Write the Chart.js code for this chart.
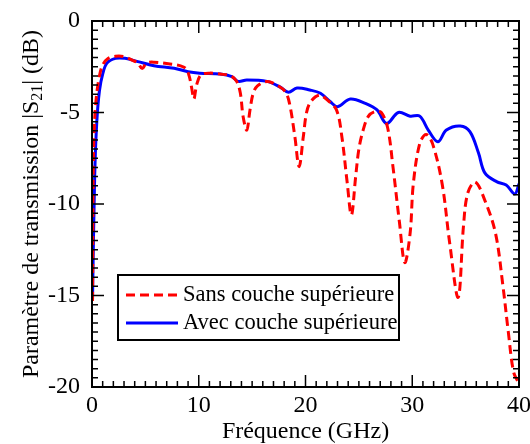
<!DOCTYPE html>
<html>
<head>
<meta charset="utf-8">
<script src="https://cdn.jsdelivr.net/npm/chart.js@4/dist/chart.umd.min.js"></script>
<style>
  html, body { margin: 0; padding: 0; background: #fff; }
  #wrap { width: 530px; height: 444px; }
</style>
</head>
<body>
<div id="wrap"><canvas id="s21-chart" width="530" height="444"></canvas></div>
<script>
// Sans couche supérieure (red dashed)
const freqSans = [0.05, 0.1, 0.2, 0.4, 0.7, 1.0, 1.5, 2.2, 3.0, 3.8, 4.3, 4.7, 5.1, 5.8, 7.3, 8.3, 8.8, 9.1, 9.35, 9.55, 9.8, 10.2,
  11, 12, 13.0, 13.55, 13.9, 14.15, 14.5, 14.8, 15.1, 15.5, 16.4, 17.3, 18.1, 18.5, 19.0, 19.4, 19.8, 20.1, 20.5, 21.3, 22.0,
  22.9, 23.4, 23.9, 24.3, 24.7, 25.0, 25.4, 25.9, 26.5, 27.1, 27.7, 28.2, 28.8, 29.3, 29.8, 30.1, 30.7, 31.3, 31.9, 32.8,
  33.5, 34.3, 34.8, 35.2, 35.9, 36.8, 37.8, 38.5, 39.0, 39.5, 40];
const s21Sans = [-15.3, -9, -6, -4.2, -3.0, -2.4, -2.05, -1.93, -1.95, -2.15, -2.3, -2.6, -2.3, -2.25, -2.35, -2.45, -2.6, -3.0, -3.7, -4.26, -3.5, -2.95,
  -2.85, -2.9, -3.0, -3.3, -3.95, -5.2, -5.96, -4.86, -3.95, -3.55, -3.3, -3.5, -3.86, -4.5, -6.3, -7.96, -6.3, -5.0, -4.4, -4.05, -4.3,
  -4.86, -6.3, -8.8, -10.6, -8.5, -7.0, -5.96, -5.2, -4.95, -5.0, -5.85, -8.0, -11.0, -13.2, -11.6, -8.9, -6.7, -6.2, -6.7, -8.9,
  -12.1, -15.1, -11.2, -9.4, -8.8, -9.8, -11.6, -14.5, -17.0, -19.2, -19.8];

// Avec couche supérieure (blue solid)
const freqAvec = [0.05, 0.25, 0.45, 0.7, 1.0, 1.4, 2.2, 3.1, 4.3, 5.8, 7.7, 9.0, 10.1, 12, 13.1, 13.7, 14.5, 16.4, 17.6, 18.4, 19.2,
  20.4, 21.4, 22.3, 23.0, 24.2, 25.6, 26.7, 27.6, 28.7, 29.8, 30.7, 31.5, 32.4, 33.2, 34.5, 35.4, 36.2, 36.8, 37.9, 38.8, 39.6, 40];
const s21Avec = [-15.2, -8.5, -5.5, -3.8, -2.9, -2.3, -2.04, -2.04, -2.22, -2.44, -2.58, -2.77, -2.85, -2.9, -3.04, -3.3, -3.22, -3.3, -3.6, -3.9, -3.66,
  -3.77, -3.95, -4.4, -4.68, -4.26, -4.5, -4.86, -5.6, -5.0, -5.2, -5.2, -5.96, -6.6, -5.96, -5.74, -6.05, -7.2, -8.3, -8.78, -8.96, -9.45, -8.9];

const xTicks = [0, 10, 20, 30, 40];
const yTicks = [-20, -15, -10, -5, 0];
const seriesLabels = ['Sans couche supérieure', 'Avec couche supérieure'];

const SERIF = '"Liberation Serif", "Times New Roman", serif';

const toPoints = (xs, ys) => xs.map((x, i) => ({ x, y: ys[i] }));

// frame, inward ticks, y title with subscript, legend box
const framePlugin = {
    id: 'frame',
    afterDatasetsDraw(chart) {
        const { ctx, chartArea: a, scales: { x, y } } = chart;
        ctx.save();
        ctx.strokeStyle = '#000';
        ctx.lineWidth = 2;
        ctx.strokeRect(a.left, a.top, a.right - a.left, a.bottom - a.top);

        ctx.lineWidth = 1.5;
        ctx.beginPath();
        for (let v = 0; v <= 40; v += 1) {
            const px = x.getPixelForValue(v);
            const len = v % 10 === 0 ? 12 : 6;
            ctx.moveTo(px, a.bottom); ctx.lineTo(px, a.bottom - len);
            ctx.moveTo(px, a.top); ctx.lineTo(px, a.top + len);
        }
        for (let v = -20; v <= 0; v += 0.5) {
            const py = y.getPixelForValue(v);
            const len = v % 5 === 0 ? 12 : 6;
            ctx.moveTo(a.left, py); ctx.lineTo(a.left + len, py);
            ctx.moveTo(a.right, py); ctx.lineTo(a.right - len, py);
        }
        ctx.stroke();

        // y axis title
        ctx.fillStyle = '#000';
        ctx.translate(32, (a.top + a.bottom) / 2);
        ctx.rotate(-Math.PI / 2);
        ctx.textBaseline = 'middle';
        const big = '24px ' + SERIF, small = '16px ' + SERIF;
        const parts = [['Paramètre de transmission |S', big, 0], ['21', small, 6], ['| (dB)', big, 0]];
        let total = 0;
        parts.forEach(p => { ctx.font = p[1]; total += ctx.measureText(p[0]).width; });
        let cx = -total / 2;
        parts.forEach(p => { ctx.font = p[1]; ctx.fillText(p[0], cx, p[2]); cx += ctx.measureText(p[0]).width; });
        ctx.restore();

        // legend
        ctx.save();
        const lx = 118, ly = 275, lw = 281, lh = 65;
        ctx.fillStyle = '#fff';
        ctx.fillRect(lx, ly, lw, lh);
        ctx.strokeStyle = '#000';
        ctx.lineWidth = 2;
        ctx.strokeRect(lx, ly, lw, lh);
        ctx.font = '22.5px ' + SERIF;
        ctx.textBaseline = 'middle';
        chart.data.datasets.forEach((ds, i) => {
            const rowY = ly + 20 + i * 28;
            ctx.strokeStyle = ds.borderColor;
            ctx.lineWidth = ds.borderWidth;
            ctx.setLineDash(ds.borderDash || []);
            ctx.beginPath();
            ctx.moveTo(lx + 8, rowY); ctx.lineTo(lx + 60, rowY);
            ctx.stroke();
            ctx.setLineDash([]);
            ctx.fillStyle = '#000';
            ctx.fillText(ds.label, lx + 65, rowY);
        });
        ctx.restore();
    }
};

const ctx = document.getElementById('s21-chart');
new Chart(ctx, {
    type: 'line',
    data: {
        datasets: [
            { label: seriesLabels[0], data: toPoints(freqSans, s21Sans), borderColor: '#ff0000', borderWidth: 3, borderDash: [9, 5], pointRadius: 0, fill: false, tension: 0.35 },
            { label: seriesLabels[1], data: toPoints(freqAvec, s21Avec), borderColor: '#0000ff', borderWidth: 3, pointRadius: 0, fill: false, tension: 0.35 }
        ]
    },
    options: {
        responsive: false,
        animation: false,
        layout: { padding: { left: 0, top: 21, right: 11, bottom: 0 } },
        plugins: { legend: { display: false }, tooltip: { enabled: false } },
        scales: {
            x: {
                type: 'linear', min: 0, max: 40,
                afterBuildTicks: s => { s.ticks = xTicks.map(v => ({ value: v })); },
                afterFit: s => { s.height = 57; },
                grid: { display: false }, border: { display: false },
                ticks: { color: '#000', font: { family: SERIF, size: 24, lineHeight: 1 }, padding: -1, maxRotation: 0 },
                title: { display: true, text: 'Fréquence (GHz)', color: '#000', font: { family: SERIF, size: 24, lineHeight: 1 }, padding: 0 }
            },
            y: {
                type: 'linear', min: -20, max: 0,
                afterBuildTicks: s => { s.ticks = yTicks.map(v => ({ value: v })); },
                afterFit: s => { s.width = 92; },
                grid: { display: false }, border: { display: false },
                ticks: { color: '#000', font: { family: SERIF, size: 24 }, padding: 4 }
            }
        }
    },
    plugins: [framePlugin]
});
</script>
</body>
</html>
